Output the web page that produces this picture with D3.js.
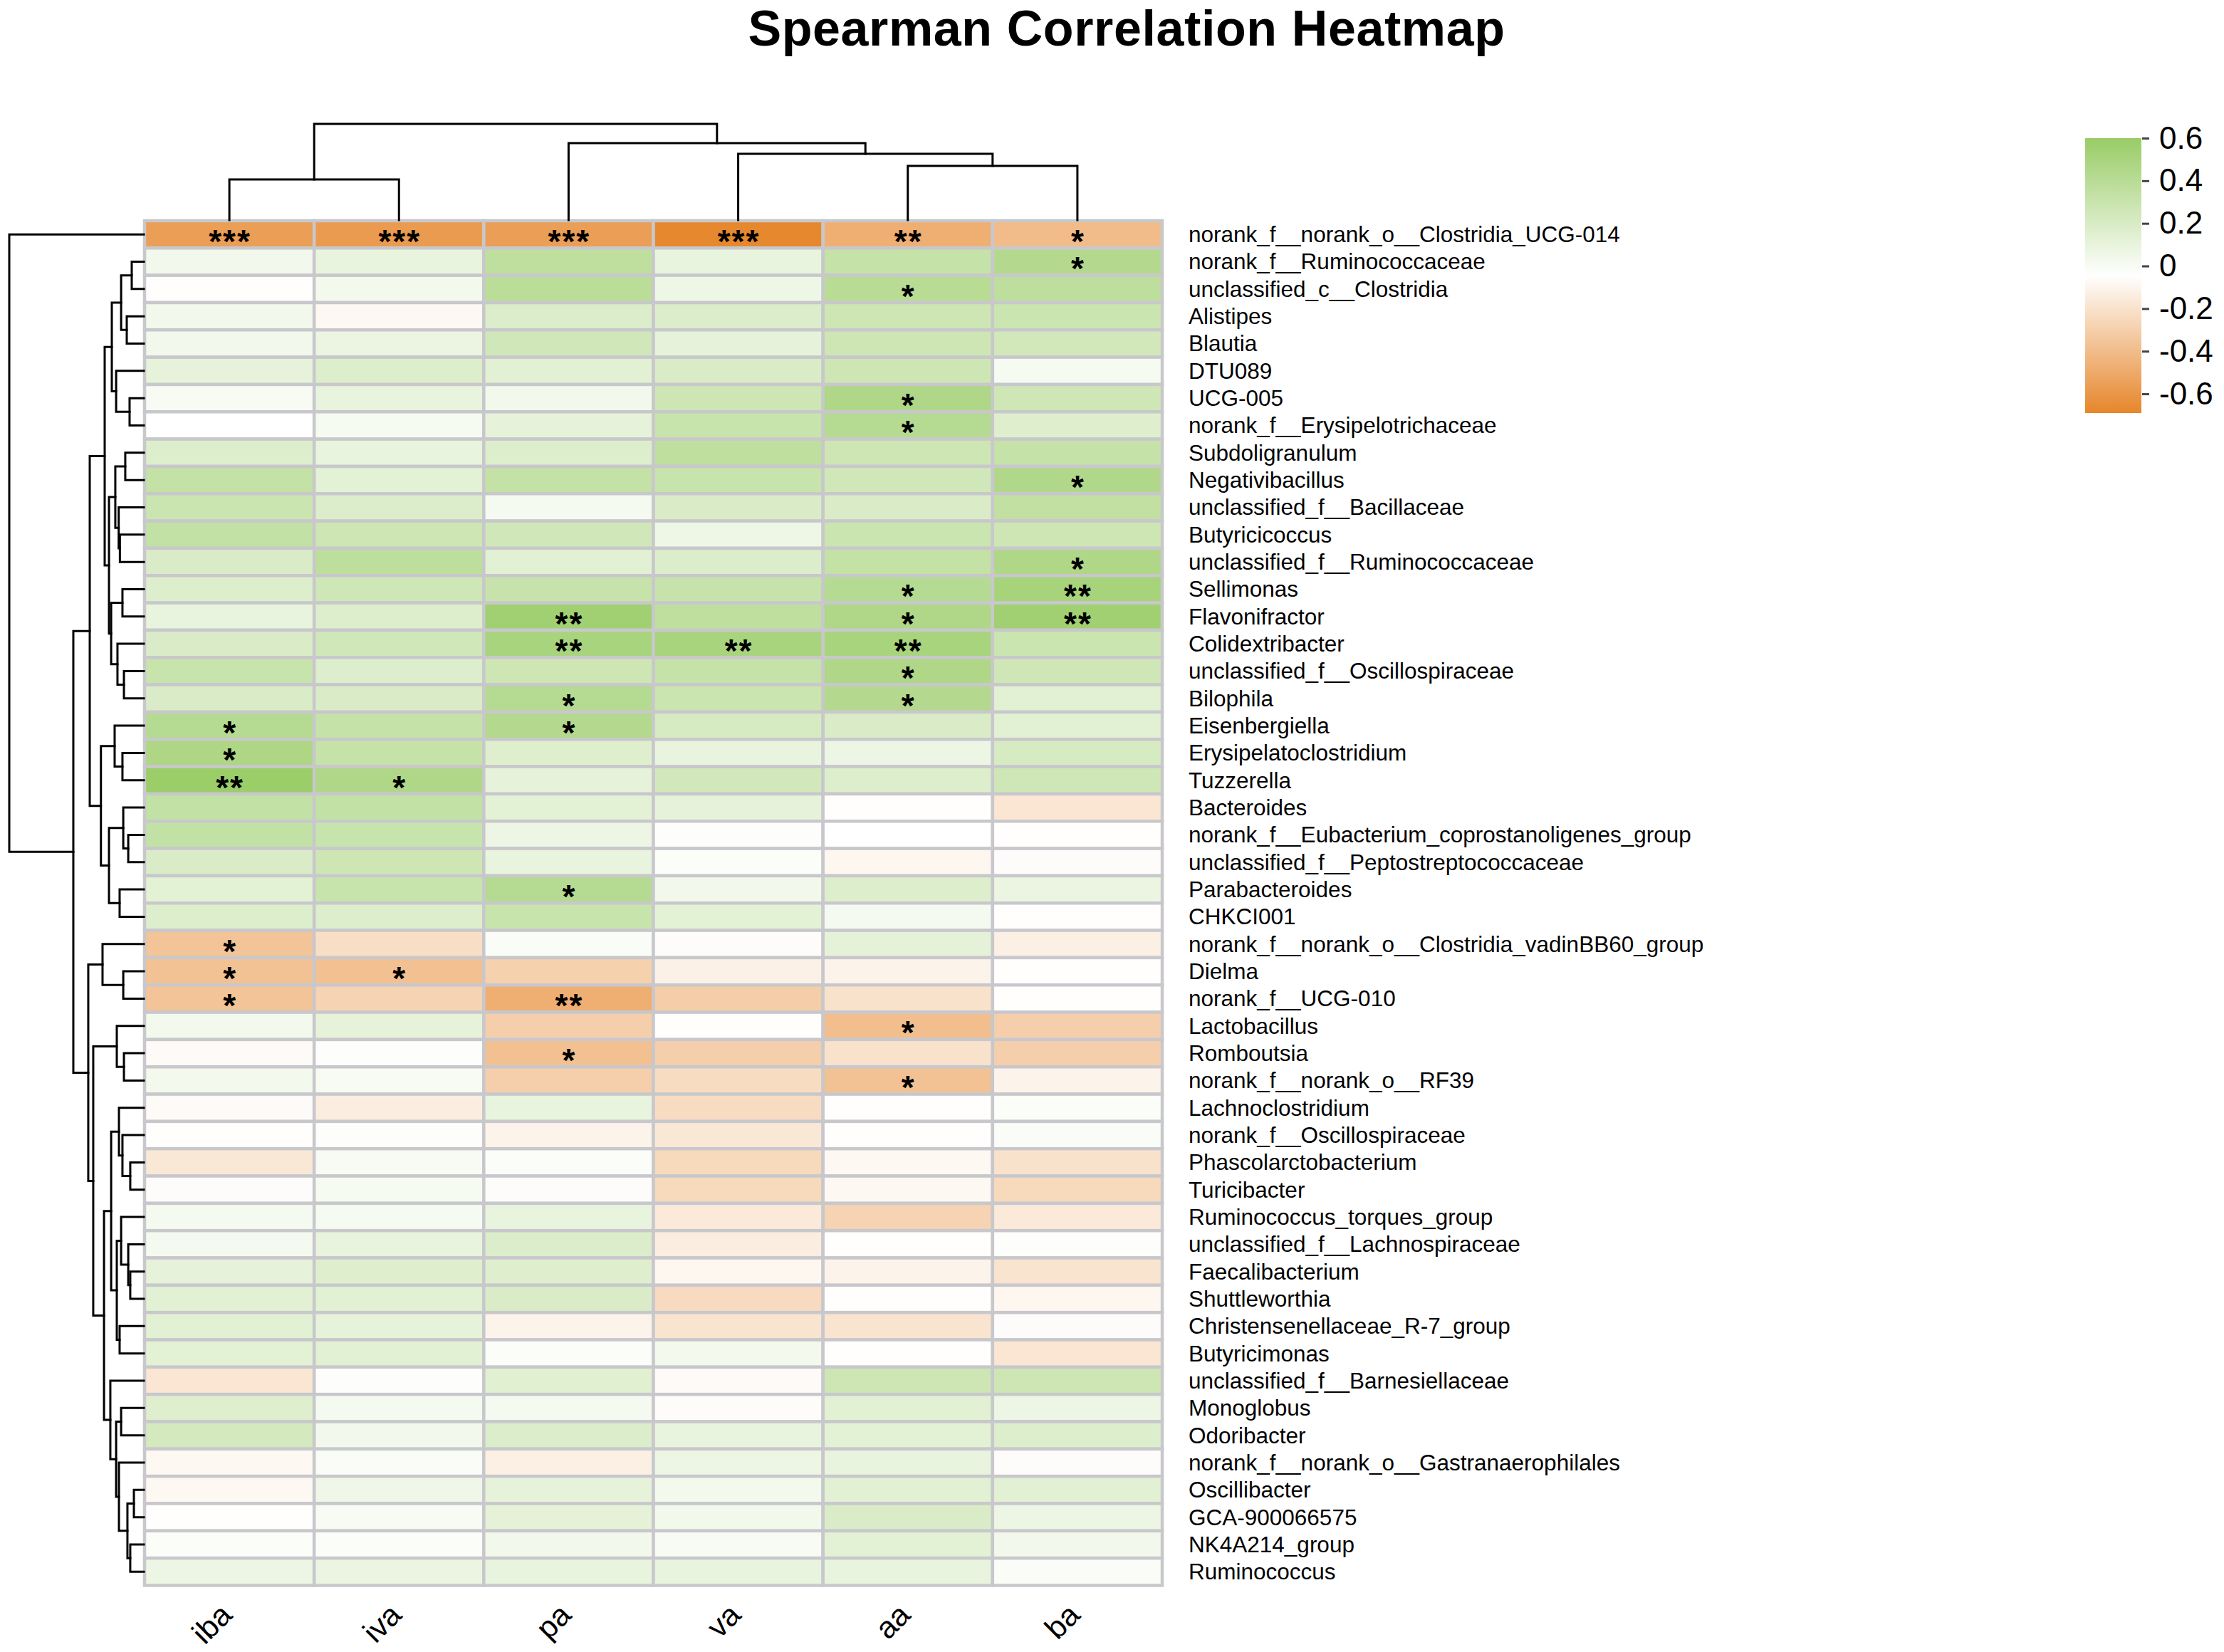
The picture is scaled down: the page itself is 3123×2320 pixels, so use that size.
<!DOCTYPE html>
<html>
<head>
<meta charset="utf-8">
<script src="https://cdn.jsdelivr.net/npm/d3@7"></script>
<style>
  html, body { margin: 0; padding: 0; background: #ffffff; }
  svg { display: block; }
  text { font-family: "Liberation Sans", Arial, sans-serif; }
</style>
</head>
<body>
<svg id="chart" width="3123" height="2320"></svg>
<script>
// ---------------- DATA ----------------
const title = "Spearman Correlation Heatmap";

const colNames = ["iba", "iva", "pa", "va", "aa", "ba"];

const rowNames = [
  "norank_f__norank_o__Clostridia_UCG-014",
  "norank_f__Ruminococcaceae",
  "unclassified_c__Clostridia",
  "Alistipes",
  "Blautia",
  "DTU089",
  "UCG-005",
  "norank_f__Erysipelotrichaceae",
  "Subdoligranulum",
  "Negativibacillus",
  "unclassified_f__Bacillaceae",
  "Butyricicoccus",
  "unclassified_f__Ruminococcaceae",
  "Sellimonas",
  "Flavonifractor",
  "Colidextribacter",
  "unclassified_f__Oscillospiraceae",
  "Bilophila",
  "Eisenbergiella",
  "Erysipelatoclostridium",
  "Tuzzerella",
  "Bacteroides",
  "norank_f__Eubacterium_coprostanoligenes_group",
  "unclassified_f__Peptostreptococcaceae",
  "Parabacteroides",
  "CHKCI001",
  "norank_f__norank_o__Clostridia_vadinBB60_group",
  "Dielma",
  "norank_f__UCG-010",
  "Lactobacillus",
  "Romboutsia",
  "norank_f__norank_o__RF39",
  "Lachnoclostridium",
  "norank_f__Oscillospiraceae",
  "Phascolarctobacterium",
  "Turicibacter",
  "Ruminococcus_torques_group",
  "unclassified_f__Lachnospiraceae",
  "Faecalibacterium",
  "Shuttleworthia",
  "Christensenellaceae_R-7_group",
  "Butyricimonas",
  "unclassified_f__Barnesiellaceae",
  "Monoglobus",
  "Odoribacter",
  "norank_f__norank_o__Gastranaerophilales",
  "Oscillibacter",
  "GCA-900066575",
  "NK4A214_group",
  "Ruminococcus"
];

// correlation values, one row per genus, columns follow colNames
const corrValues = [
  [-0.56, -0.58, -0.56, -0.68, -0.47, -0.40],
  [ 0.04,  0.10,  0.36,  0.10,  0.32,  0.43],
  [-0.05,  0.03,  0.39,  0.06,  0.40,  0.37],
  [ 0.04, -0.08,  0.18,  0.18,  0.27,  0.29],
  [ 0.04,  0.08,  0.25,  0.11,  0.27,  0.24],
  [ 0.11,  0.17,  0.14,  0.19,  0.27,  0.01],
  [ 0.00,  0.10,  0.04,  0.27,  0.46,  0.26],
  [-0.04,  0.01,  0.11,  0.30,  0.42,  0.16],
  [ 0.17,  0.10,  0.17,  0.36,  0.27,  0.32],
  [ 0.33,  0.13,  0.33,  0.30,  0.25,  0.45],
  [ 0.29,  0.18,  0.02,  0.19,  0.19,  0.35],
  [ 0.34,  0.27,  0.25,  0.06,  0.29,  0.27],
  [ 0.19,  0.37,  0.14,  0.18,  0.33,  0.46],
  [ 0.17,  0.26,  0.31,  0.31,  0.42,  0.51],
  [ 0.10,  0.17,  0.55,  0.36,  0.46,  0.55],
  [ 0.19,  0.25,  0.50,  0.50,  0.50,  0.29],
  [ 0.30,  0.17,  0.27,  0.32,  0.46,  0.26],
  [ 0.19,  0.19,  0.42,  0.29,  0.43,  0.14],
  [ 0.42,  0.32,  0.43,  0.21,  0.19,  0.14],
  [ 0.47,  0.32,  0.16,  0.10,  0.07,  0.21],
  [ 0.59,  0.46,  0.11,  0.24,  0.17,  0.26],
  [ 0.34,  0.34,  0.13,  0.11, -0.05, -0.18],
  [ 0.34,  0.30,  0.07, -0.03, -0.04, -0.05],
  [ 0.19,  0.27,  0.10, -0.02, -0.09, -0.06],
  [ 0.13,  0.30,  0.42,  0.04,  0.17,  0.08],
  [ 0.17,  0.17,  0.30,  0.13,  0.02, -0.05],
  [-0.36, -0.22, -0.01, -0.06,  0.12, -0.13],
  [-0.37, -0.38, -0.29, -0.12, -0.11, -0.05],
  [-0.36, -0.28, -0.47, -0.31, -0.20, -0.05],
  [ 0.03,  0.11, -0.30, -0.05, -0.39, -0.30],
  [-0.07, -0.03, -0.38, -0.30, -0.20, -0.30],
  [ 0.03,  0.00, -0.30, -0.23, -0.37, -0.11],
  [-0.07, -0.14,  0.10, -0.23, -0.05, -0.02],
  [-0.05, -0.03, -0.11, -0.17, -0.05, -0.01],
  [-0.17,  0.00, -0.02, -0.25, -0.08, -0.20],
  [-0.06,  0.01, -0.06, -0.25, -0.08, -0.25],
  [ 0.02,  0.01,  0.10, -0.16, -0.28, -0.16],
  [ 0.02,  0.10,  0.18, -0.14, -0.05, -0.03],
  [ 0.11,  0.16,  0.16, -0.09, -0.11, -0.19],
  [ 0.14,  0.14,  0.19, -0.24, -0.05, -0.09],
  [ 0.14,  0.11, -0.11, -0.19, -0.19, -0.06],
  [ 0.13,  0.14, -0.02,  0.03, -0.05, -0.18],
  [-0.18, -0.03,  0.15, -0.07,  0.27,  0.27],
  [ 0.16,  0.02,  0.02, -0.06,  0.14,  0.07],
  [ 0.23,  0.04,  0.18,  0.10,  0.13,  0.17],
  [-0.08, -0.01, -0.13,  0.07,  0.10, -0.06],
  [-0.08,  0.05,  0.11,  0.03,  0.14,  0.14],
  [-0.05,  0.00,  0.12,  0.04,  0.19,  0.07],
  [-0.02, -0.02,  0.04,  0.00,  0.13,  0.04],
  [ 0.07,  0.08,  0.10,  0.10,  0.10, -0.01]
];

// significance marks, same layout as corrValues
const sigMarks = [
  ["***","***","***","***","**","*"],
  ["","","","","","*"],
  ["","","","","*",""],
  ["","","","","",""],
  ["","","","","",""],
  ["","","","","",""],
  ["","","","","*",""],
  ["","","","","*",""],
  ["","","","","",""],
  ["","","","","","*"],
  ["","","","","",""],
  ["","","","","",""],
  ["","","","","","*"],
  ["","","","","*","**"],
  ["","","**","","*","**"],
  ["","","**","**","**",""],
  ["","","","","*",""],
  ["","","*","","*",""],
  ["*","","*","","",""],
  ["*","","","","",""],
  ["**","*","","","",""],
  ["","","","","",""],
  ["","","","","",""],
  ["","","","","",""],
  ["","","*","","",""],
  ["","","","","",""],
  ["*","","","","",""],
  ["*","*","","","",""],
  ["*","","**","","",""],
  ["","","","","*",""],
  ["","","*","","",""],
  ["","","","","*",""],
  ["","","","","",""],
  ["","","","","",""],
  ["","","","","",""],
  ["","","","","",""],
  ["","","","","",""],
  ["","","","","",""],
  ["","","","","",""],
  ["","","","","",""],
  ["","","","","",""],
  ["","","","","",""],
  ["","","","","",""],
  ["","","","","",""],
  ["","","","","",""],
  ["","","","","",""],
  ["","","","","",""],
  ["","","","","",""],
  ["","","","","",""],
  ["","","","","",""]
];

// colour bar
const colorDomain = [-0.69, -0.045, 0.6];
const colorRange = ["#E6862B", "#FFFFFF", "#99CC66"];
const legendTicks = [-0.6, -0.4, -0.2, 0, 0.2, 0.4, 0.6];

// row clustering tree: [left, right, height]; leaves = 1-based row numbers
const rowF = [[[2, 3, 0.090], [4, 5, 0.127], 0.169], [6, [7, 8, 0.106], 0.206], 0.238];
const rowG = [[[9, 10, 0.138], [11, [12, 13, 0.178], 0.187], 0.212],
              [[14, 15, 0.159], [16, [17, 18, 0.148], 0.196], 0.243], 0.259];
const rowQ = [[19, [20, 21, 0.159], 0.217], [[22, [23, 24, 0.116], 0.153], [25, 26, 0.180], 0.259], 0.319];
const rowX = [[rowF, rowG, 0.291], rowQ, 0.402];
const rowII = [[33, [34, [35, 36, 0.101], 0.159], 0.185],
               [[37, [38, [39, 40, 0.101], 0.116], 0.169], [41, 42, 0.180], 0.201], 0.243];
const rowWW = [43, [[44, 45, 0.169], [46, [[47, 48, 0.074], [49, 50, 0.101], 0.122], 0.185], 0.206], 0.249];
const rowXX = [[27, [28, 29, 0.153], 0.307], [[30, [31, 32, 0.148], 0.201], [rowII, rowWW, 0.296], 0.376], 0.413];
const rowTree = [1, [rowX, rowXX, 0.524], 1.0];

// column clustering tree
const colTree = [["iba", "iva", 0.422], ["pa", ["va", ["aa", "ba", 0.563], 0.689], 0.800], 1.0];

// ---------------- DRAWING ----------------
const svg = d3.select("#chart");

const x = d3.scaleBand().domain(colNames).range([203, 1632]);
const y = d3.scaleBand().domain(rowNames).range([310, 2226.5]);
const color = d3.scaleLinear().domain(colorDomain).range(colorRange).clamp(true);

// title
svg.append("text")
  .attr("x", 1582).attr("y", 64)
  .attr("text-anchor", "middle")
  .attr("font-size", 70).attr("font-weight", "bold")
  .attr("letter-spacing", 0.6)
  .attr("fill", "#000")
  .text(title);

// cells
const cells = [];
rowNames.forEach((r, i) => colNames.forEach((c, j) => {
  cells.push({ r, c, v: corrValues[i][j], s: sigMarks[i][j] });
}));

const gCells = svg.append("g");
gCells.selectAll("rect").data(cells).join("rect")
  .attr("x", d => x(d.c))
  .attr("y", d => y(d.r))
  .attr("width", x.bandwidth())
  .attr("height", y.bandwidth())
  .attr("fill", d => color(d.v))
  .attr("stroke", "#C8C8CC")
  .attr("stroke-width", 4.5);

const starSize = 46;
svg.append("g").selectAll("text").data(cells.filter(d => d.s)).join("text")
  .attr("x", d => x(d.c) + x.bandwidth() / 2 + 1)
  .attr("y", d => y(d.r) + y.bandwidth() / 2 + starSize * 0.56)
  .attr("text-anchor", "middle")
  .attr("font-size", starSize)
  .attr("font-weight", "bold")
  .attr("letter-spacing", 2)
  .attr("fill", "#000")
  .text(d => d.s);

// row labels
svg.append("g").selectAll("text").data(rowNames).join("text")
  .attr("x", 1669)
  .attr("y", d => y(d) + y.bandwidth() / 2)
  .attr("dominant-baseline", "central")
  .attr("font-size", 31.5)
  .attr("fill", "#000")
  .text(d => d);

// column labels
svg.append("g").selectAll("text").data(colNames).join("text")
  .attr("transform", d => `translate(${x(d) + x.bandwidth() / 2 + 6},${2226.5 + 44}) rotate(-45)`)
  .attr("text-anchor", "end")
  .attr("font-size", 43)
  .attr("fill", "#000")
  .text(d => d);

// dendrogram helpers
function walk(node, leafPos, segs) {
  if (!Array.isArray(node)) return { p: leafPos(node), h: 0 };
  const a = walk(node[0], leafPos, segs);
  const b = walk(node[1], leafPos, segs);
  const h = node[2];
  segs.push({ a, b, h });
  return { p: (a.p + b.p) / 2, h };
}

// left (row) dendrogram
const hRow = d3.scaleLinear().domain([0, 1]).range([202, 13]);
const rowSegs = [];
walk(rowTree, n => y(rowNames[n - 1]) + y.bandwidth() / 2, rowSegs);
svg.append("g").selectAll("path").data(rowSegs).join("path")
  .attr("d", s => `M${hRow(s.a.h)},${s.a.p}H${hRow(s.h)}V${s.b.p}H${hRow(s.b.h)}`)
  .attr("fill", "none").attr("stroke", "#000").attr("stroke-width", 3)
  .attr("stroke-linecap", "square");

// top (column) dendrogram
const hCol = d3.scaleLinear().domain([0, 1]).range([309, 174]);
const colSegs = [];
walk(colTree, n => x(n) + x.bandwidth() / 2, colSegs);
svg.append("g").selectAll("path").data(colSegs).join("path")
  .attr("d", s => `M${s.a.p},${hCol(s.a.h)}V${hCol(s.h)}H${s.b.p}V${hCol(s.b.h)}`)
  .attr("fill", "none").attr("stroke", "#000").attr("stroke-width", 3)
  .attr("stroke-linecap", "square");

// legend colour bar
const legY = d3.scaleLinear().domain([colorDomain[0], colorDomain[2]]).range([580, 194]);
const defs = svg.append("defs");
const grad = defs.append("linearGradient").attr("id", "legGrad")
  .attr("x1", 0).attr("y1", 1).attr("x2", 0).attr("y2", 0);
grad.selectAll("stop").data(colorDomain).join("stop")
  .attr("offset", d => (d - colorDomain[0]) / (colorDomain[2] - colorDomain[0]))
  .attr("stop-color", d => color(d));

svg.append("rect")
  .attr("x", 2928).attr("y", legY(colorDomain[2]))
  .attr("width", 79).attr("height", legY(colorDomain[0]) - legY(colorDomain[2]))
  .attr("fill", "url(#legGrad)");

const legAxis = d3.axisRight(legY)
  .tickValues(legendTicks)
  .tickSize(10)
  .tickPadding(14)
  .tickFormat(d => d === 0 ? "0" : d.toFixed(1));

const gLeg = svg.append("g").attr("transform", "translate(3008,0)").call(legAxis);
gLeg.select(".domain").remove();
gLeg.selectAll(".tick line").attr("stroke", "#444").attr("stroke-width", 3);
gLeg.selectAll(".tick text")
  .attr("font-size", 44)
  .attr("font-family", '"Liberation Sans", Arial, sans-serif')
  .attr("fill", "#000");
</script>
</body>
</html>
